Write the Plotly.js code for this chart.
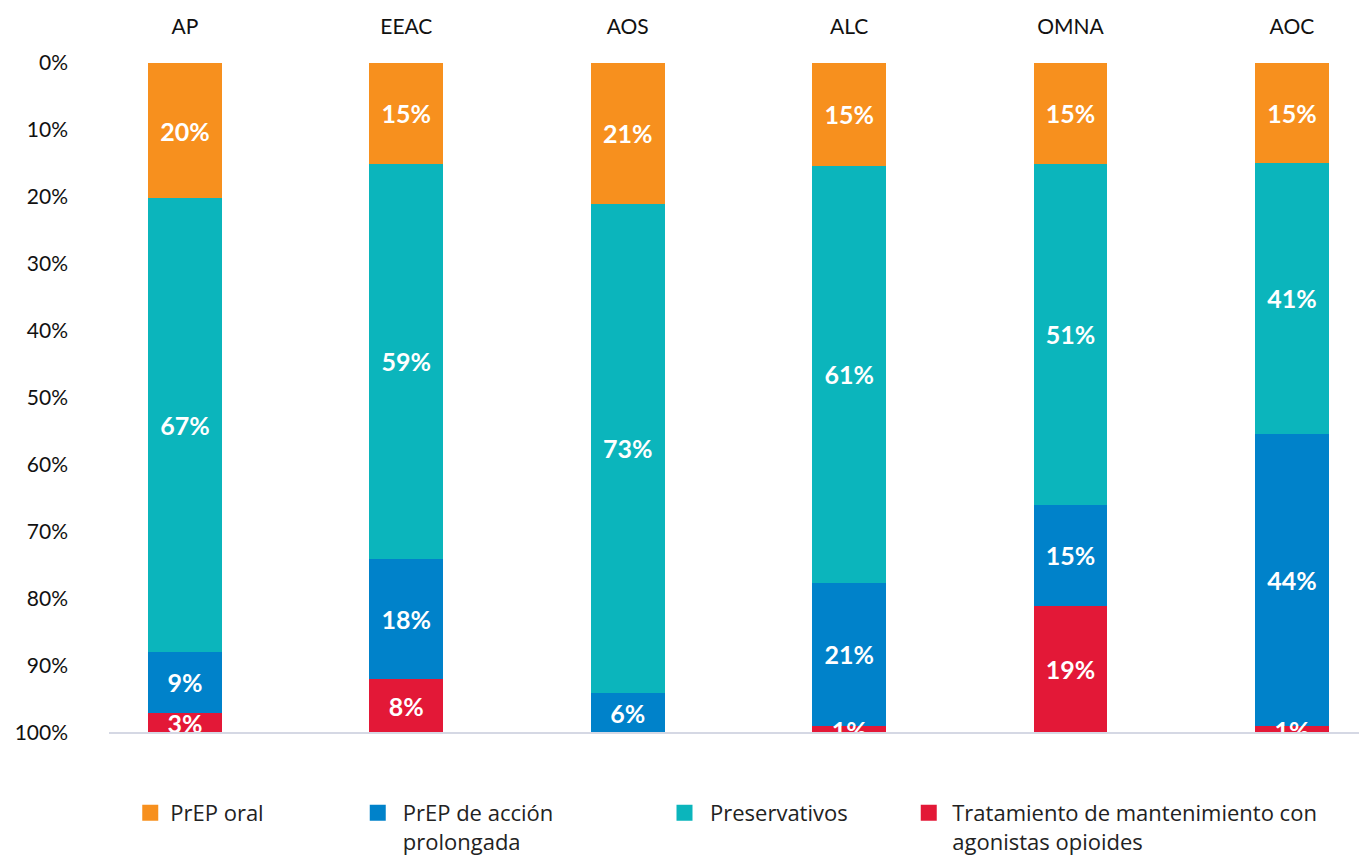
<!DOCTYPE html>
<html>
<head>
<meta charset="utf-8">
<script src="https://cdn.plot.ly/plotly-3.0.1.min.js"></script>
<style>html,body{margin:0;padding:0;background:#fff;}#chart{width:1359px;height:856px;}</style>
</head>
<body>
<div id="chart"></div>
<script>
const categories = ['AP', 'EEAC', 'AOS', 'ALC', 'OMNA', 'AOC'];
const prepOral = [20, 15, 21, 15, 15, 15];
const preservativos = [67, 59, 73, 61, 51, 41];
const prepProlongada = [9, 18, 6, 21, 15, 44];
const tratamiento = [3, 8, 0, 1, 19, 1];
const tickVals = [0, 10, 20, 30, 40, 50, 60, 70, 80, 90, 100];

const series = [
  {name: 'PrEP oral', values: prepOral, color: '#F7901E', legend: 'legend'},
  {name: 'Preservativos', values: preservativos, color: '#0BB5BC', legend: 'legend3'},
  {name: 'PrEP de acción<br>prolongada', values: prepProlongada, color: '#0082CA', legend: 'legend2'},
  {name: 'Tratamiento de mantenimiento con<br>agonistas opioides', values: tratamiento, color: '#E31837', legend: 'legend4'}
];

const traces = [];
series.forEach(s => {
  traces.push({
    type: 'bar',
    x: categories,
    y: s.values,
    name: s.name,
    showlegend: false,
    marker: {color: s.color},
    text: s.values.map(v => v ? v + '%' : ''),
    textposition: 'inside',
    insidetextanchor: 'middle',
    constraintext: 'none',
    textangle: 0,
    textfont: {family: 'Lato', size: 25, color: '#ffffff', weight: 'bold'},
    hoverinfo: 'x+y+name'
  });
});
series.forEach(s => {
  traces.push({
    type: 'scatter',
    mode: 'markers',
    x: [null],
    y: [null],
    name: s.name,
    legend: s.legend,
    showlegend: true,
    marker: {symbol: 'square', size: 17, color: s.color},
    hoverinfo: 'skip'
  });
});

const legendFont = {family: 'Open Sans', size: 22, color: '#222222'};
function leg(x, w) {
  return {x: x, y: -0.088, xanchor: 'left', yanchor: 'top', orientation: 'v', itemwidth: w,
    font: legendFont, valign: 'top', itemsizing: 'trace', bgcolor: 'rgba(0,0,0,0)', tracegroupgap: 0};
}

const layout = {
  width: 1359,
  height: 856,
  margin: {l: 109, r: 0, t: 63, b: 123, autoexpand: false},
  paper_bgcolor: '#ffffff',
  plot_bgcolor: '#ffffff',
  barmode: 'stack',
  barnorm: 'percent',
  bargap: 0.666,
  font: {family: 'Lato', size: 20, color: '#111111'},
  xaxis: {
    type: 'category',
    side: 'top',
    range: [-0.343, 5.303],
    showline: false,
    showgrid: false,
    zeroline: false,
    ticks: '',
    ticklabelstandoff: 24,
    tickfont: {family: 'Lato', size: 21, color: '#111111'}
  },
  yaxis: {
    range: [100, 0],
    tickvals: tickVals,
    ticktext: tickVals.map(v => v + '%'),
    showgrid: false,
    zeroline: false,
    showline: false,
    ticks: '',
    ticklabelstandoff: 40,
    tickfont: {family: 'Lato', size: 21, color: '#111111'}
  },
  shapes: [{type: 'line', xref: 'paper', yref: 'paper', x0: 0, x1: 1, y0: 0, y1: 0,
    line: {color: '#D5D8E4', width: 2}, layer: 'above'}],
  legend: leg(0.017, 30),
  legend2: leg(0.195, 40),
  legend3: leg(0.44, 41),
  legend4: leg(0.637, 37),
  showlegend: true
};

Plotly.newPlot('chart', traces, layout, {displayModeBar: false, staticPlot: true});
</script>
</body>
</html>
